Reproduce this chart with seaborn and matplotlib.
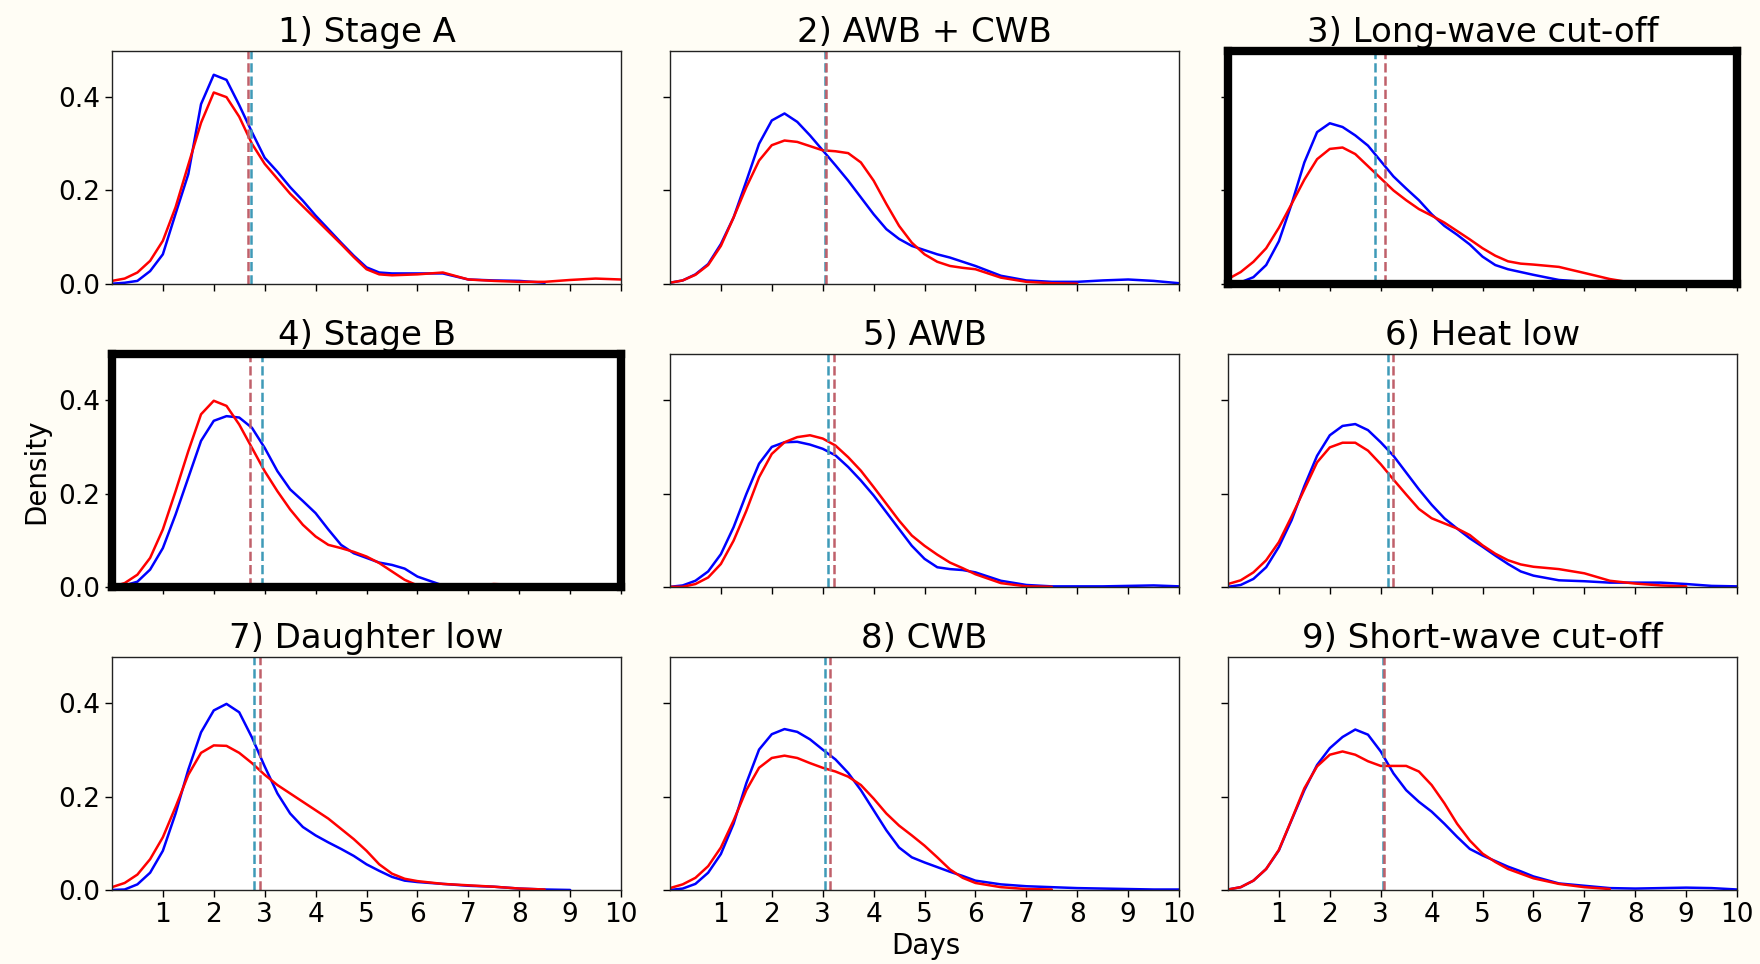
import numpy as np
import pandas as pd
import matplotlib
matplotlib.use("Agg")
import matplotlib.pyplot as plt
import seaborn as sns

nan = np.nan

# x grid (days) at which the density curves were read
days = [0.0, 0.25, 0.5, 0.75, 1.0, 1.25, 1.5, 1.75, 2.0, 2.25, 2.5, 2.75, 3.0,
        3.25, 3.5, 3.75, 4.0, 4.25, 4.5, 4.75, 5.0, 5.25, 5.5, 5.75, 6.0,
        6.5, 7.0, 7.5, 8.0, 8.5, 9.0, 9.5, 10.0]

titles = ["1) Stage A", "2) AWB + CWB", "3) Long-wave cut-off",
          "4) Stage B", "5) AWB", "6) Heat low",
          "7) Daughter low", "8) CWB", "9) Short-wave cut-off"]

blue_1 = [0.000, 0.002, 0.006, 0.027, 0.063, 0.150, 0.235, 0.385, 0.448, 0.437, 0.383, 0.325, 0.270,
          0.240, 0.207, 0.178, 0.146, 0.117, 0.088, 0.060, 0.035, 0.024, 0.022, 0.022, 0.022,
          0.022, 0.009, 0.007, 0.006, 0.002, nan, nan, nan]
red_1 = [0.006, 0.011, 0.024, 0.049, 0.092, 0.164, 0.255, 0.345, 0.410, 0.400, 0.358, 0.300, 0.257,
         0.225, 0.193, 0.166, 0.139, 0.112, 0.085, 0.057, 0.031, 0.020, 0.018, 0.019, 0.020,
         0.024, 0.009, 0.006, 0.004, 0.004, 0.008, 0.011, 0.009]

blue_2 = [0.002, 0.007, 0.020, 0.042, 0.085, 0.142, 0.220, 0.300, 0.350, 0.365, 0.347, 0.318, 0.286,
          0.254, 0.221, 0.185, 0.149, 0.117, 0.096, 0.081, 0.072, 0.063, 0.056, 0.047, 0.038,
          0.017, 0.007, 0.004, 0.004, 0.007, 0.009, 0.006, 0.001]
red_2 = [0.002, 0.007, 0.019, 0.040, 0.081, 0.142, 0.207, 0.264, 0.297, 0.307, 0.304, 0.295, 0.286,
         0.284, 0.280, 0.260, 0.221, 0.171, 0.124, 0.088, 0.063, 0.047, 0.038, 0.034, 0.031,
         0.013, 0.004, 0.001, 0.000, nan, nan, nan, nan]

blue_3 = [0.000, 0.003, 0.014, 0.040, 0.091, 0.171, 0.260, 0.325, 0.344, 0.336, 0.318, 0.296, 0.263,
          0.230, 0.204, 0.179, 0.149, 0.124, 0.105, 0.084, 0.058, 0.040, 0.031, 0.025, 0.019,
          0.008, 0.004, 0.006, 0.001, nan, nan, nan, nan]
red_3 = [0.010, 0.025, 0.047, 0.076, 0.120, 0.171, 0.223, 0.267, 0.289, 0.292, 0.278, 0.252, 0.226,
         0.200, 0.179, 0.160, 0.146, 0.131, 0.113, 0.095, 0.076, 0.060, 0.048, 0.043, 0.041,
         0.036, 0.023, 0.010, 0.001, 0.000, nan, nan, nan]

blue_4 = [0.000, 0.003, 0.011, 0.037, 0.083, 0.155, 0.234, 0.313, 0.356, 0.366, 0.363, 0.341, 0.298,
          0.248, 0.209, 0.184, 0.158, 0.123, 0.090, 0.072, 0.062, 0.052, 0.047, 0.039, 0.022,
          0.003, 0.001, 0.003, 0.003, 0.001, 0.000, nan, nan]
red_4 = [0.000, 0.008, 0.026, 0.062, 0.123, 0.205, 0.291, 0.370, 0.399, 0.388, 0.348, 0.298, 0.248,
         0.205, 0.166, 0.133, 0.108, 0.090, 0.083, 0.075, 0.065, 0.051, 0.033, 0.015, 0.003,
         0.000, 0.001, 0.006, 0.004, 0.001, 0.000, nan, nan]

blue_5 = [0.000, 0.003, 0.013, 0.033, 0.070, 0.128, 0.199, 0.264, 0.300, 0.310, 0.311, 0.305, 0.296,
          0.282, 0.257, 0.228, 0.196, 0.160, 0.124, 0.088, 0.060, 0.042, 0.038, 0.036, 0.031,
          0.013, 0.004, 0.001, 0.001, 0.001, 0.002, 0.003, 0.001]
red_5 = [0.000, 0.000, 0.006, 0.020, 0.049, 0.099, 0.163, 0.235, 0.285, 0.310, 0.321, 0.325, 0.318,
         0.303, 0.278, 0.249, 0.214, 0.178, 0.142, 0.110, 0.088, 0.069, 0.052, 0.040, 0.027,
         0.008, 0.001, 0.000, nan, nan, nan, nan, nan]

blue_6 = [0.000, 0.004, 0.017, 0.042, 0.086, 0.143, 0.216, 0.281, 0.325, 0.345, 0.349, 0.336, 0.310,
          0.281, 0.245, 0.209, 0.176, 0.147, 0.125, 0.104, 0.086, 0.067, 0.049, 0.033, 0.024,
          0.014, 0.012, 0.009, 0.009, 0.009, 0.006, 0.002, 0.001]
red_6 = [0.006, 0.014, 0.031, 0.057, 0.096, 0.151, 0.209, 0.267, 0.299, 0.309, 0.309, 0.292, 0.263,
         0.230, 0.198, 0.167, 0.147, 0.136, 0.125, 0.111, 0.089, 0.071, 0.057, 0.048, 0.043,
         0.038, 0.029, 0.013, 0.007, 0.003, 0.001, nan, nan]

blue_7 = [0.000, 0.001, 0.012, 0.037, 0.084, 0.164, 0.258, 0.338, 0.385, 0.399, 0.381, 0.327, 0.265,
          0.207, 0.164, 0.135, 0.117, 0.102, 0.088, 0.073, 0.055, 0.041, 0.028, 0.020, 0.017,
          0.013, 0.009, 0.007, 0.003, 0.001, 0.000, nan, nan]
red_7 = [0.006, 0.015, 0.033, 0.066, 0.113, 0.178, 0.247, 0.294, 0.310, 0.309, 0.294, 0.272, 0.247,
         0.225, 0.207, 0.189, 0.171, 0.153, 0.131, 0.109, 0.084, 0.055, 0.035, 0.024, 0.019,
         0.013, 0.010, 0.007, 0.003, 0.001, nan, nan, nan]

blue_8 = [0.000, 0.003, 0.013, 0.037, 0.077, 0.142, 0.229, 0.301, 0.334, 0.345, 0.339, 0.323, 0.301,
          0.280, 0.251, 0.214, 0.171, 0.128, 0.091, 0.070, 0.059, 0.049, 0.039, 0.030, 0.020,
          0.012, 0.008, 0.006, 0.004, 0.003, 0.002, 0.001, 0.001]
red_8 = [0.004, 0.012, 0.026, 0.051, 0.091, 0.149, 0.214, 0.262, 0.283, 0.288, 0.283, 0.272, 0.262,
         0.254, 0.243, 0.225, 0.196, 0.164, 0.138, 0.117, 0.095, 0.070, 0.044, 0.026, 0.015,
         0.006, 0.002, 0.001, nan, nan, nan, nan, nan]

blue_9 = [0.001, 0.006, 0.020, 0.045, 0.085, 0.150, 0.214, 0.268, 0.304, 0.328, 0.344, 0.333, 0.297,
          0.250, 0.214, 0.189, 0.168, 0.142, 0.114, 0.088, 0.074, 0.062, 0.050, 0.040, 0.029,
          0.014, 0.009, 0.004, 0.003, 0.004, 0.005, 0.004, 0.001]
red_9 = [0.001, 0.006, 0.020, 0.045, 0.086, 0.151, 0.218, 0.265, 0.290, 0.297, 0.290, 0.276, 0.266,
         0.266, 0.266, 0.254, 0.225, 0.186, 0.142, 0.106, 0.078, 0.060, 0.045, 0.035, 0.025,
         0.013, 0.006, 0.002, nan, nan, nan, nan, nan]

blue_means = [2.73, 3.05, 2.88, 2.94, 3.11, 3.15, 2.80, 3.04, 3.05]
red_means = [2.67, 3.07, 3.08, 2.71, 3.22, 3.24, 2.91, 3.14, 3.06]

blue_curves = [blue_1, blue_2, blue_3, blue_4, blue_5, blue_6, blue_7, blue_8, blue_9]
red_curves = [red_1, red_2, red_3, red_4, red_5, red_6, red_7, red_8, red_9]
highlighted = [2, 3]

xticks = [1, 2, 3, 4, 5, 6, 7, 8, 9, 10]
yticks = [0.0, 0.2, 0.4]
ytick_labels = ["0.0", "0.2", "0.4"]

sns.set_style("ticks", {"text.color": "black", "axes.labelcolor": "black",
                        "xtick.color": "black", "ytick.color": "black",
                        "axes.edgecolor": "#222222"})
plt.rcParams["font.family"] = ["DejaVu Sans"]

fig = plt.figure(figsize=(17.6, 9.64), dpi=100, facecolor="#fffdf5")
axes = fig.subplots(3, 3, sharex=True, sharey=True)
fig.subplots_adjust(left=0.0636, right=0.987, top=0.9476, bottom=0.0768,
                    wspace=0.096, hspace=0.30)

for i, ax in enumerate(axes.flat):
    ax.set_facecolor("white")
    sns.lineplot(x=days, y=blue_curves[i], ax=ax, color="blue", lw=1.8,
                 estimator=None, sort=False)
    sns.lineplot(x=days, y=red_curves[i], ax=ax, color="red", lw=1.8,
                 estimator=None, sort=False)
    ax.axvline(blue_means[i], color="#3f9ab8", ls="--", lw=1.8)
    ax.axvline(red_means[i], color="#c0606a", ls="--", lw=1.8)
    ax.set_title(titles[i], fontsize=24.5, pad=6, color="black")
    ax.set_xlim(0, 10)
    ax.set_ylim(0, 0.5)
    ax.set_xticks(xticks)
    ax.set_yticks(yticks)
    ax.set_yticklabels(ytick_labels)
    ax.tick_params(labelsize=19, length=5, width=1, colors="black")
    ax.set_xlabel("")
    ax.set_ylabel("")
    for sp in ax.spines.values():
        sp.set_color("#222222")
        sp.set_linewidth(1.0)
    if i in highlighted:
        for sp in ax.spines.values():
            sp.set_color("black")
            sp.set_linewidth(6)
            sp.set_capstyle("projecting")

fig.text(0.526, 0.019, "Days", ha="center", va="center", fontsize=20, color="black")
fig.text(0.0205, 0.511, "Density", ha="center", va="center", rotation=90,
         fontsize=20, color="black")

fig.savefig("out.png", dpi=100, facecolor=fig.get_facecolor())
